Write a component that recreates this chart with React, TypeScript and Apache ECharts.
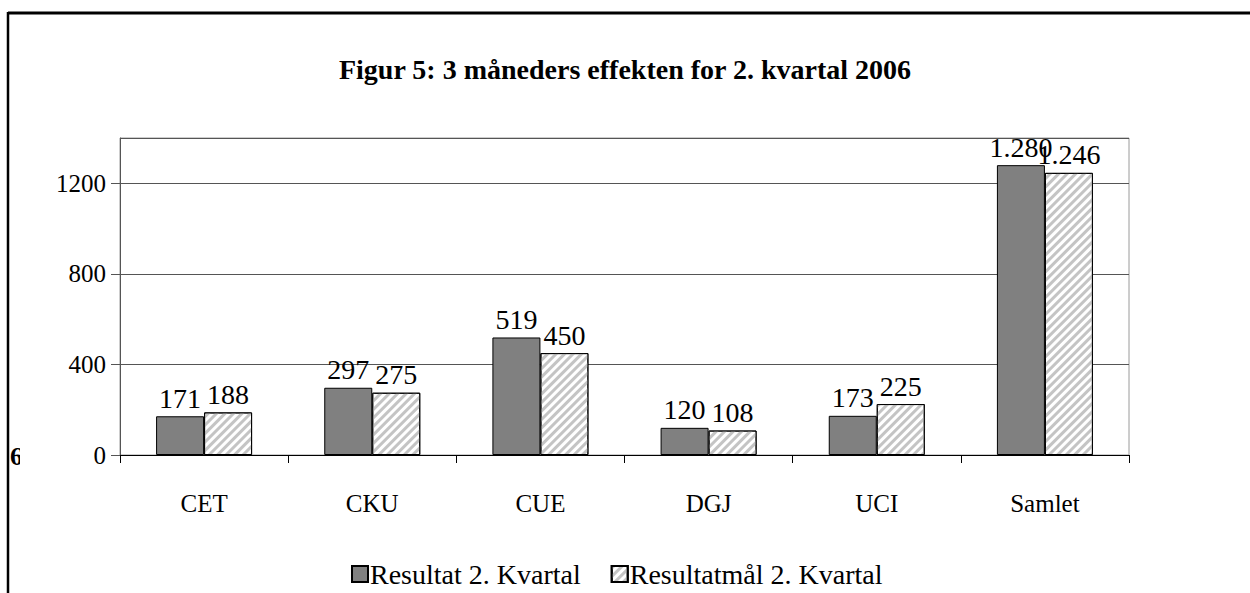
import React, { useEffect, useRef } from "react";
import * as echarts from "echarts";

const categories = ["CET", "CKU", "CUE", "DGJ", "UCI", "Samlet"];
const resultat = [171, 297, 519, 120, 173, 1280];
const resultatmaal = [188, 275, 450, 108, 225, 1246];
const seriesNames = ["Resultat 2. Kvartal", "Resultatmål 2. Kvartal"];
const titleText = "Figur 5: 3 måneders effekten for 2. kvartal 2006";
const yTicks = { min: 0, max: 1400, interval: 400 };

const FONT = "Liberation Serif";

function fmt(v: number): string {
  return String(v).replace(/\B(?=(\d{3})+(?!\d))/g, ".");
}

export default function App() {
  const ref = useRef<HTMLDivElement>(null);
  useEffect(() => {
    if (!ref.current) return;
    const chart = echarts.init(ref.current, null, { renderer: "svg" });
    const label = {
      show: true,
      position: "top",
      distance: 4,
      color: "#000",
      fontFamily: FONT,
      fontSize: 28,
      formatter: (p: any) => fmt(p.value),
    };
    chart.setOption({
      animation: false,
      backgroundColor: "#fff",
      textStyle: { fontFamily: FONT },
      title: {
        text: titleText,
        left: "center",
        top: 50,
        textStyle: { fontFamily: FONT, fontWeight: "bold", fontSize: 28, color: "#000" },
      },
      legend: {
        left: 346,
        top: 555,
        icon: "rect",
        itemWidth: 16,
        itemHeight: 16,
        itemGap: 30,
        textStyle: { fontFamily: FONT, fontSize: 28, color: "#000", padding: [0, 0, 0, -3] },
        data: seriesNames,
      },
      grid: {
        left: 120,
        right: 121,
        top: 138,
        bottom: 138,
        show: true,
        borderColor: "#9a9a9a",
        borderWidth: 1,
        containLabel: false,
      },
      xAxis: {
        type: "category",
        data: categories,
        axisLine: { lineStyle: { color: "#000", width: 1 } },
        axisTick: { show: true, length: 8, lineStyle: { color: "#000" } },
        axisLabel: { margin: 36, fontFamily: FONT, fontSize: 25, color: "#000" },
      },
      yAxis: {
        type: "value",
        min: yTicks.min,
        max: yTicks.max,
        interval: yTicks.interval,
        axisLine: { show: true, lineStyle: { color: "#555" } },
        axisTick: { show: true, length: 9, lineStyle: { color: "#555" } },
        axisLabel: {
          margin: 14,
          fontFamily: FONT,
          fontSize: 25,
          color: "#000",
          showMaxLabel: false,
          formatter: (v: number) => String(v),
        },
        splitLine: { show: true, lineStyle: { color: "#555", width: 1 } },
      },
      series: [
        {
          name: seriesNames[0],
          type: "bar",
          data: resultat,
          barWidth: 48,
          barGap: "0%",
          itemStyle: { color: "#808080", borderColor: "#000", borderWidth: 1 },
          label,
        },
        {
          name: seriesNames[1],
          type: "bar",
          data: resultatmaal,
          barWidth: 48,
          barGap: "0%",
          itemStyle: {
            color: "#ffffff",
            borderColor: "#000",
            borderWidth: 1,
            decal: {
              symbol: "rect",
              symbolSize: 1,
              color: "#c4c4c4",
              backgroundColor: "#f4f4f4",
              dashArrayX: [1, 0],
              dashArrayY: [3, 3],
              rotation: -Math.PI / 4,
            },
          },
          label,
        },
      ],
      graphic: [
        {
          type: "text",
          left: 10,
          top: 443,
          style: { text: "6", fontFamily: FONT, fontWeight: "bold", fontSize: 26, fill: "#000" },
          z: 1,
        },
        {
          type: "rect",
          shape: { x: 20, y: 440, width: 20, height: 30 },
          style: { fill: "#fff" },
          z: 2,
        },
        {
          type: "line",
          shape: { x1: 8, y1: 13, x2: 1250, y2: 13 },
          style: { stroke: "#000", lineWidth: 3 },
          z: 3,
        },
        {
          type: "line",
          shape: { x1: 8, y1: 12, x2: 8, y2: 593 },
          style: { stroke: "#000", lineWidth: 2.5 },
          z: 3,
        },
      ],
    });
    return () => chart.dispose();
  }, []);
  return (
    <div
      ref={ref}
      style={{ width: 1250, height: 593, position: "absolute", left: 0, top: 0 }}
    />
  );
}
